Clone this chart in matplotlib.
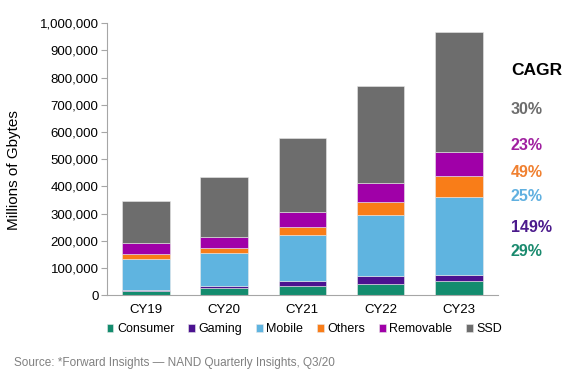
import matplotlib.pyplot as plt
import numpy as np

plt.rcParams["font.family"] = ["Liberation Sans", "DejaVu Sans"]

years = ["CY19", "CY20", "CY21", "CY22", "CY23"]
series = ["Consumer", "Gaming", "Mobile", "Others", "Removable", "SSD"]
colors = ["#138c6e", "#4b1290", "#5fb4e0", "#f97d18", "#a000a8", "#6d6d6d"]

# thousands of millions of Gbytes
consumer = [17, 27, 34, 42, 53]
gaming = [1, 8, 19, 29, 23]
mobile = [117, 122, 169, 224, 284]
others = [18, 17, 28, 47, 77]
removable = [38, 41, 55, 71, 90]
ssd = [154, 220, 272, 355, 441]

cagr_labels = ["30%", "23%", "49%", "25%", "149%", "29%"]
cagr_colors = ["#6d6d6d", "#a020a0", "#f08030", "#60b0e0", "#4b1a8c", "#1a8a6e"]

values = [consumer, gaming, mobile, others, removable, ssd]

fig = plt.figure(figsize=(5.69, 3.80), dpi=100)
ax = fig.add_axes([0.188, 0.223, 0.687, 0.716])

x = np.arange(len(years))
bottom = np.zeros(len(years))
for name, vals, col in zip(series, values, colors):
	v = np.array(vals) * 1000
	ax.bar(x, v, 0.61, bottom=bottom, color=col, label=name,
		edgecolor="#e8e8e8", linewidth=0.4)
	bottom += v

ax.set_xlim(-0.5, 4.5)
ax.set_ylim(0, 1000000)
ax.set_yticks(np.arange(0, 1000001, 100000))
ax.set_yticklabels([f"{int(t):,}" for t in np.arange(0, 1000001, 100000)])
ax.set_xticks(x)
ax.set_xticklabels(years)
ax.tick_params(axis="y", labelsize=9.5, length=4, color="#a6a6a6", pad=2)
ax.tick_params(axis="x", labelsize=9.5, length=0, pad=6)
for s in ("top", "right"):
	ax.spines[s].set_visible(False)
for s in ("left", "bottom"):
	ax.spines[s].set_color("#a6a6a6")
ax.set_ylabel("Millions of Gbytes", fontsize=11)
ax.yaxis.set_label_coords(-0.221, 0.46)

fig.text(0.898, 0.815, "CAGR", fontsize=12.5, fontweight="bold", va="center")
cagr_y = [109, 146, 172, 197, 227, 252]
for lab, col, yp in zip(cagr_labels, cagr_colors, cagr_y):
	fig.text(0.898, 1 - yp / 380, lab, fontsize=11.5, fontweight="bold",
		color=col, va="center")

ax.legend(loc="upper center", bbox_to_anchor=(0.505, -0.085), ncol=6,
	frameon=False, fontsize=9, handlelength=0.55, handleheight=0.55,
	handletextpad=0.28, columnspacing=1.1, borderaxespad=0)

fig.text(0.025, 1 - 363 / 380, "Source: *Forward Insights \u2014 NAND Quarterly Insights, Q3/20",
	fontsize=8.5, color="#808080", va="center")

fig.savefig("out.png", dpi=100)
